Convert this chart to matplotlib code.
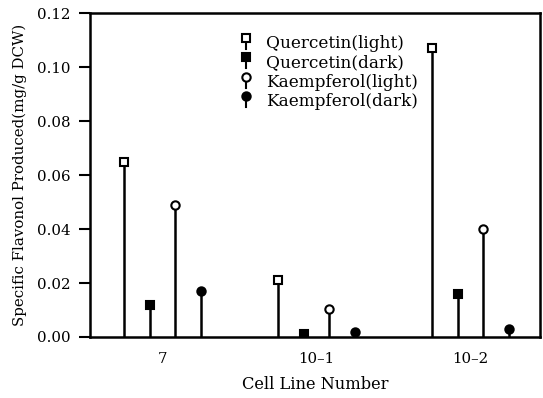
import numpy as np
import matplotlib
matplotlib.use("Agg")
import matplotlib.pyplot as plt
from matplotlib.legend_handler import HandlerBase
from matplotlib.lines import Line2D

cell_lines = ["7", "10\u20131", "10\u20132"]
series_names = ["Quercetin(light)", "Quercetin(dark)", "Kaempferol(light)", "Kaempferol(dark)"]
quercetin_light = [0.065, 0.021, 0.107]
quercetin_dark = [0.012, 0.001, 0.016]
kaempferol_light = [0.049, 0.0105, 0.040]
kaempferol_dark = [0.017, 0.002, 0.003]
y_ticks = [0.00, 0.02, 0.04, 0.06, 0.08, 0.10, 0.12]

plt.rcParams['font.family'] = ['DejaVu Serif']

fig = plt.figure(figsize=(5.43, 3.98), dpi=100)
ax = fig.add_axes([0.1657, 0.1533, 0.8288, 0.8137])

series = [quercetin_light, quercetin_dark, kaempferol_light, kaempferol_dark]
offsets = [-0.25, -0.083, 0.083, 0.25]
markers = ['s', 's', 'o', 'o']
faces = ['white', 'black', 'white', 'black']
base = np.arange(len(cell_lines))

containers = []
for vals, off, m, fc, name in zip(series, offsets, markers, faces, series_names):
    sc = ax.stem(base + off, vals, linefmt='k-', markerfmt='k' + m, basefmt=' ', label=name)
    sc.markerline.set_markerfacecolor(fc)
    sc.markerline.set_markeredgecolor('black')
    sc.markerline.set_markersize(6)
    sc.markerline.set_markeredgewidth(1.5)
    sc.stemlines.set_linewidth(1.8)
    containers.append(sc)


class StemHandler(HandlerBase):
    def create_artists(self, legend, orig_handle, xdescent, ydescent, width, height, fontsize, trans):
        cx = width / 2 - xdescent
        top = height * 0.85 - ydescent
        bot = -height * 0.1 - ydescent
        ml = orig_handle.markerline
        stem = Line2D([cx, cx], [bot, top], color='black', lw=1.5, transform=trans)
        mk = Line2D([cx], [top], marker=ml.get_marker(), markersize=6,
                    markerfacecolor=ml.get_markerfacecolor(), markeredgecolor='black',
                    markeredgewidth=1.5, linestyle='none', transform=trans)
        return [stem, mk]


ax.legend(containers, series_names, handler_map={type(containers[0]): StemHandler()},
          loc='upper left', bbox_to_anchor=(0.31, 0.965), frameon=False, fontsize=12.2,
          handlelength=0.8, handletextpad=0.75, labelspacing=0.15, borderaxespad=0.2)

ax.set_xlim(-0.47, 2.45)
ax.set_ylim(0, 0.12)
ax.set_xticks(base)
ax.set_xticklabels(cell_lines, fontsize=10.8)
ax.set_yticks(y_ticks)
ax.set_yticklabels([f"{t:.2f}" for t in y_ticks], fontsize=10.8)
ax.tick_params(axis='x', length=0, pad=11)
ax.tick_params(axis='y', direction='out', length=8, width=1.5, pad=6)
for sp in ax.spines.values():
    sp.set_linewidth(1.8)

ax.set_xlabel("Cell Line Number", fontsize=11.7, labelpad=7)
ax.set_ylabel("Specific Flavonol Produced(mg/g DCW)", fontsize=10.8, labelpad=7)

fig.savefig("out.png", dpi=100)
